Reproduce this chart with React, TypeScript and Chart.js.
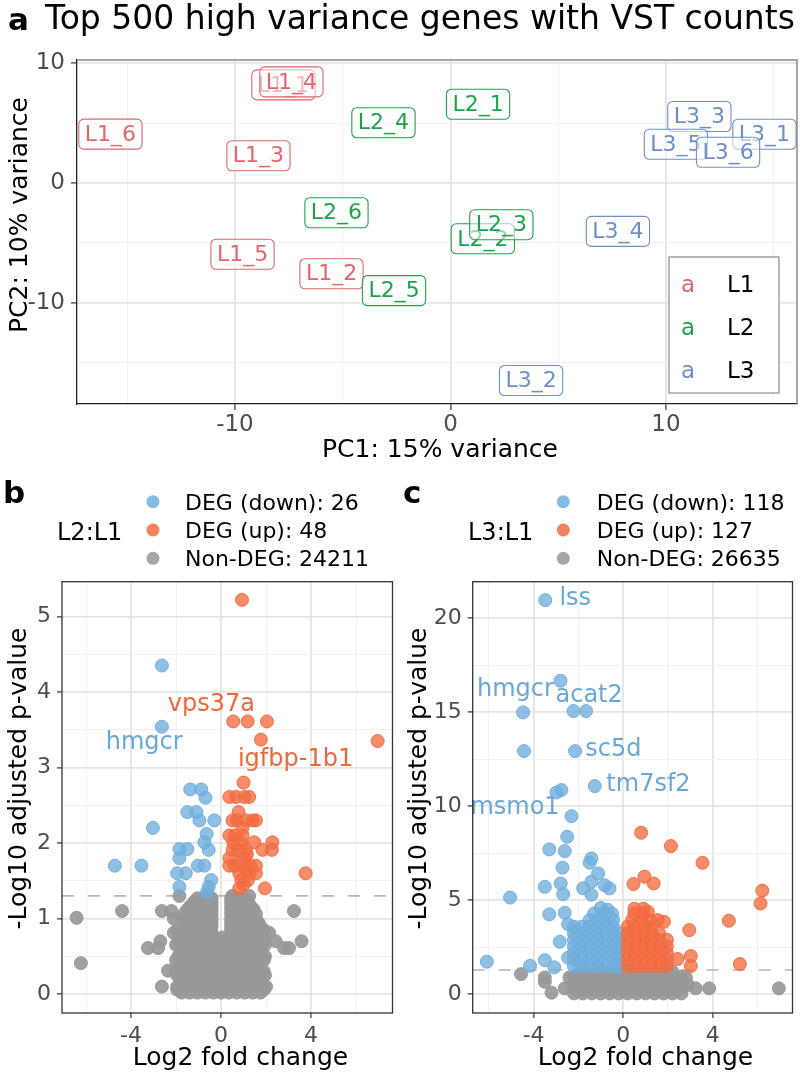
import React, { useEffect, useRef } from 'react';
import { Chart, registerables } from 'chart.js';

Chart.register(...registerables);

const FONT = '"DejaVu Sans", "Liberation Sans", Arial, sans-serif';

// ---------------- Panel a : PCA ----------------
const pcaTitle = 'Top 500 high variance genes with VST counts';
const pcaXTitle = 'PC1: 15% variance';
const pcaYTitle = 'PC2: 10% variance';
const pcaGroupNames = ['L1', 'L2', 'L3'];
const pcaGroupColors = ['#e0676a', '#1fa34a', '#6f8fc9'];
const pcaSamples = ['L1_1', 'L1_2', 'L1_3', 'L1_4', 'L1_5', 'L1_6', 'L2_1', 'L2_2', 'L2_3', 'L2_4', 'L2_5', 'L2_6', 'L3_1', 'L3_2', 'L3_3', 'L3_4', 'L3_5', 'L3_6'];
const pcaGroup = [0, 0, 0, 0, 0, 0, 1, 1, 1, 1, 1, 1, 2, 2, 2, 2, 2, 2];
const pcaPC1 = [-7.75, -5.52, -8.91, -7.38, -9.65, -15.78, 1.28, 1.5, 2.36, -3.11, -2.62, -5.29, 14.57, 3.74, 11.55, 7.77, 10.46, 12.88];
const pcaPC2 = [8.2, -7.58, 2.28, 8.45, -5.95, 4.09, 6.58, -4.66, -3.48, 5.04, -8.99, -2.48, 4.08, -16.5, 5.56, -4.04, 3.24, 2.57];
const pcaXTickLabels = [-10, 0, 10];
const pcaYTickLabels = [-10, 0, 10];

// ---------------- Volcano common ----------------
const degLegendNames = ['DEG (down)', 'DEG (up)', 'Non-DEG'];
const padjThreshold = 1.3;
const COL_DOWN = 'rgb(112,174,220)';
const COL_UP = 'rgb(242,108,64)';
const COL_NON = 'rgb(152,152,152)';

// ---------------- Panel b : L2 vs L1 ----------------
const l2l1Counts = [26, 48, 24211];
const l2l1XTickLabels = [-4, 0, 4];
const l2l1YTickLabels = [0, 1, 2, 3, 4, 5];
const l2l1Down: number[][] = [
  [-4.72, 1.70], [-3.54, 1.70], [-3.03, 2.20], [-2.63, 4.35], [-2.63, 3.54], [-1.37, 2.71], [-0.88, 2.71],
  [-0.69, 2.60], [-1.50, 2.41], [-1.10, 2.41], [-0.96, 2.30], [-0.30, 2.30], [-0.64, 2.12], [-0.74, 2.01],
  [-0.55, 1.91], [-1.85, 1.92], [-1.50, 1.92], [-1.85, 1.80], [-1.03, 1.70], [-0.74, 1.70], [-1.95, 1.60],
  [-1.57, 1.60], [-0.44, 1.51], [-1.85, 1.42], [-0.55, 1.42], [-0.62, 1.35]
];
const l2l1Up: number[][] = [
  [0.93, 5.22], [0.54, 3.61], [1.18, 3.61], [2.04, 3.61], [1.77, 3.37], [6.96, 3.35], [1.00, 2.80],
  [0.37, 2.61], [0.66, 2.61], [1.03, 2.61], [1.25, 2.61], [0.78, 2.41], [0.51, 2.30], [1.10, 2.30],
  [1.55, 2.30], [0.37, 2.10], [0.96, 2.10], [1.47, 2.01], [2.28, 2.01], [2.26, 1.91], [0.51, 1.91],
  [1.10, 1.91], [1.84, 1.91], [0.37, 1.80], [1.03, 1.80], [0.37, 1.70], [1.55, 1.70], [0.81, 1.60],
  [1.25, 1.60], [1.55, 1.60], [3.76, 1.60], [0.90, 1.51], [1.20, 1.51], [0.81, 1.40], [1.95, 1.40],
  [0.60, 1.70], [0.75, 1.91], [0.90, 2.00], [1.30, 1.70], [1.00, 1.45], [0.70, 2.30], [0.60, 2.10],
  [1.40, 2.30], [0.85, 1.75], [1.10, 1.65], [0.55, 2.00], [0.95, 2.20], [1.15, 1.85]
];
const l2l1NonDegOutliers: number[][] = [
  [-6.42, 1.01], [-6.23, 0.41], [-4.40, 1.10], [3.24, 1.10], [3.58, 0.70], [-3.25, 0.61], [-2.80, 0.61],
  [-2.70, 0.70], [-2.63, 0.10], [-2.36, 0.31], [-2.63, 1.10], [-2.21, 1.10], [-2.10, 1.00], [-1.70, 1.00],
  [-2.10, 0.81], [-1.70, 0.81], [1.70, 0.92], [2.14, 0.81], [2.43, 0.70], [2.80, 0.61], [3.02, 0.61],
  [1.53, 0.41], [1.75, 0.21], [2.00, 0.10], [-1.85, 1.30], [-0.60, 1.30], [0.50, 1.30], [1.25, 1.30]
];
const l2l1NonDegRows: [number, number[]][] = [
  [1.27, [-1.05, -0.75, -0.42, 0.45, 0.75, 1.05]],
  [1.22, [-1.2, -0.9, -0.6, -0.42, 0.45, 0.6, 0.9, 1.2]],
  [1.17, [-1.35, -1.0, -0.7, -0.42, 0.45, 0.7, 1.0, 1.3]],
  [1.12, [-1.5, -1.15, -0.85, -0.55, -0.42, 0.45, 0.55, 0.85, 1.15, 1.45]],
  [1.06, [-1.65, -1.3, -0.95, -0.65, -0.42, 0.45, 0.65, 0.95, 1.25, 1.55]],
  [1.0, [-1.4, -1.1, -0.8, -0.5, -0.42, 0.45, 0.5, 0.8, 1.1, 1.4]],
  [0.95, [-1.45, -1.1, -0.8, -0.42, 0.45, 0.75, 1.05, 1.35, 1.65]],
  [0.9, [-1.6, -1.25, -0.95, -0.65, -0.42, 0.45, 0.6, 0.9, 1.2, 1.5]],
  [0.85, [-1.95, -1.35, -1.05, -0.75, -0.45, 0.45, 0.7, 1.0, 1.3, 1.6, 1.9]],
  [0.8, [-1.5, -1.2, -0.9, -0.6, -0.42, 0.45, 0.55, 0.85, 1.15, 1.45, 1.75]],
  [0.75, [-1.7, -1.35, -1.0, -0.65, -0.3, 0.05, 0.4, 0.75, 1.1, 1.45, 1.75]],
  [0.7, [-1.9, -1.55, -1.2, -0.85, -0.5, -0.15, 0.2, 0.55, 0.9, 1.25, 1.6, 1.9]],
  [0.65, [-2.0, -1.6, -1.2, -0.85, -0.5, -0.15, 0.2, 0.55, 0.9, 1.25, 1.6, 1.95]],
  [0.6, [-1.75, -1.4, -1.05, -0.7, -0.35, 0, 0.35, 0.7, 1.05, 1.4, 1.75]],
  [0.55, [-1.75, -1.4, -1.05, -0.7, -0.35, 0, 0.35, 0.7, 1.05, 1.4, 1.75]],
  [0.5, [-1.9, -1.55, -1.2, -0.85, -0.5, -0.15, 0.2, 0.55, 0.9, 1.25, 1.6, 1.95]],
  [0.45, [-2.0, -1.6, -1.25, -0.9, -0.55, -0.2, 0.15, 0.5, 0.85, 1.2, 1.55, 1.9]],
  [0.4, [-1.75, -1.4, -1.05, -0.7, -0.35, 0, 0.35, 0.7, 1.05, 1.4, 1.75]],
  [0.35, [-1.8, -1.45, -1.1, -0.75, -0.4, -0.05, 0.3, 0.65, 1.0, 1.35, 1.7]],
  [0.3, [-2.0, -1.6, -1.25, -0.9, -0.55, -0.2, 0.15, 0.5, 0.85, 1.2, 1.55, 1.9]],
  [0.25, [-1.95, -1.6, -1.25, -0.9, -0.55, -0.2, 0.15, 0.5, 0.85, 1.2, 1.55, 1.95]],
  [0.2, [-1.8, -1.45, -1.1, -0.75, -0.4, -0.05, 0.3, 0.65, 1.0, 1.35, 1.7]],
  [0.15, [-1.75, -1.4, -1.05, -0.7, -0.35, 0, 0.35, 0.7, 1.05, 1.4, 1.75]],
  [0.1, [-1.95, -1.6, -1.25, -0.9, -0.55, -0.2, 0.15, 0.5, 0.85, 1.2, 1.55, 1.9]],
  [0.06, [-1.95, -1.6, -1.25, -0.9, -0.55, -0.2, 0.15, 0.5, 0.85, 1.2, 1.55, 1.9]],
  [0.02, [-1.75, -1.4, -1.05, -0.7, -0.35, 0, 0.35, 0.7, 1.05, 1.4, 1.75]]
];
const l2l1GeneLabels: [string, number, number, string][] = [
  ['vps37a', -0.43, 3.85, 'up'], ['hmgcr', -3.42, 3.35, 'down'], ['igfbp-1b1', 3.31, 3.12, 'up']
];

// ---------------- Panel c : L3 vs L1 ----------------
const l3l1Counts = [118, 127, 26635];
const l3l1XTickLabels = [-4, 0, 4];
const l3l1YTickLabels = [0, 5, 10, 15, 20];
const l3l1DownSingles: number[][] = [
  [-3.48, 20.97], [-2.80, 16.68], [-4.47, 15.0], [-2.22, 15.07], [-1.66, 15.07], [-4.43, 12.94], [-2.15, 12.94],
  [-1.27, 11.08], [-2.98, 10.74], [-2.76, 10.87], [-2.31, 9.48], [-2.50, 8.38], [-3.30, 7.71], [-2.61, 7.62],
  [-2.71, 6.74], [-1.42, 7.23], [-1.50, 7.00], [-3.50, 5.72], [-2.79, 5.90], [-1.12, 6.43], [-1.79, 5.64],
  [-1.42, 5.99], [-0.83, 5.81], [-0.61, 5.64], [-2.68, 5.33], [-5.05, 5.15], [-6.09, 1.74], [-4.16, 1.52],
  [-3.50, 1.82], [-3.08, 1.44], [-3.30, 4.26], [-2.61, 4.34], [-2.83, 2.80], [-2.46, 3.73], [-2.46, 1.95],
  [-1.42, 5.30], [-1.0, 4.6], [-0.7, 4.5]
];
const l3l1DownRows: [number, number[]][] = [
  [1.5, [-2.2, -1.85, -1.5, -1.15, -0.8, -0.45, -0.2]],
  [1.85, [-2.2, -1.85, -1.5, -1.15, -0.8, -0.45, -0.2]],
  [2.2, [-2.2, -1.85, -1.5, -1.15, -0.8, -0.45, -0.2]],
  [2.55, [-2.2, -1.85, -1.5, -1.15, -0.8, -0.45, -0.2]],
  [2.9, [-2.2, -1.85, -1.5, -1.15, -0.8, -0.45, -0.2]],
  [3.25, [-2.2, -1.85, -1.5, -1.15, -0.8, -0.45, -0.2]],
  [3.6, [-2.2, -1.85, -1.5, -1.15, -0.8, -0.45]],
  [3.95, [-1.5, -1.15, -0.8, -0.45]],
  [4.3, [-1.3, -0.9, -0.5]]
];
const l3l1UpSingles: number[][] = [
  [0.80, 8.60], [2.13, 7.89], [3.54, 7.00], [0.46, 5.87], [0.95, 6.26], [1.36, 5.90], [6.21, 5.52],
  [6.13, 4.84], [4.72, 3.92], [2.95, 3.42], [5.21, 1.61], [3.02, 2.04], [3.02, 1.51], [2.43, 1.88],
  [1.82, 3.86], [1.54, 3.95], [0.5, 4.55], [0.9, 4.55], [1.1, 4.4]
];
const l3l1UpRows: [number, number[]][] = [
  [1.5, [0.2, 0.55, 0.9, 1.25, 1.6, 1.95]],
  [1.85, [0.2, 0.55, 0.9, 1.25, 1.6, 1.95]],
  [2.2, [0.2, 0.55, 0.9, 1.25, 1.6, 1.95]],
  [2.55, [0.2, 0.55, 0.9, 1.25, 1.6, 1.95]],
  [2.9, [0.2, 0.55, 0.9, 1.25, 1.6, 1.95]],
  [3.25, [0.2, 0.55, 0.9, 1.25, 1.6]],
  [3.6, [0.2, 0.55, 0.9, 1.25]],
  [3.95, [0.4, 0.8, 1.2]],
  [4.3, [0.5, 0.9]]
];
const l3l1NonDegOutliers: number[][] = [
  [-4.56, 1.08], [-3.50, 0.90], [-3.50, 0.67], [-3.20, 0.09], [-2.61, 0.32], [3.24, 0.32], [3.84, 0.32],
  [6.95, 0.32], [-2.4, 0.9], [2.8, 0.9], [2.9, 0.5]
];
const l3l1NonDegRows: [number, number[]][] = [
  [0.05, [-2.2, -1.8, -1.4, -1.0, -0.6, -0.2, 0.2, 0.6, 1.0, 1.4, 1.8, 2.2, 2.6]],
  [0.2, [-2.0, -1.6, -1.2, -0.8, -0.4, 0, 0.4, 0.8, 1.2, 1.6, 2.0, 2.4]],
  [0.35, [-2.2, -1.8, -1.4, -1.0, -0.6, -0.2, 0.2, 0.6, 1.0, 1.4, 1.8, 2.2, 2.6]],
  [0.5, [-2.0, -1.6, -1.2, -0.8, -0.4, 0, 0.4, 0.8, 1.2, 1.6, 2.0, 2.4]],
  [0.65, [-2.2, -1.8, -1.4, -1.0, -0.6, -0.2, 0.2, 0.6, 1.0, 1.4, 1.8, 2.2, 2.6]],
  [0.8, [-2.0, -1.6, -1.2, -0.8, -0.4, 0, 0.4, 0.8, 1.2, 1.6, 2.0, 2.4]],
  [0.95, [-2.2, -1.8, -1.4, -1.0, -0.6, -0.2, 0.2, 0.6, 1.0, 1.4, 1.8, 2.2, 2.6]],
  [1.1, [-2.0, -1.6, -1.2, -0.8, -0.4, 0, 0.4, 0.8, 1.2, 1.6, 2.0]],
  [1.2, [-1.8, -1.4, -1.0, -0.6, -0.2, 0.2, 0.6, 1.0, 1.4, 1.8, 2.2]]
];
const l3l1GeneLabels: [string, number, number, string][] = [
  ['lss', -2.14, 21.1, 'down'], ['hmgcr', -4.81, 16.27, 'down'], ['acat2', -1.52, 15.97, 'down'],
  ['sc5d', -0.44, 13.09, 'down'], ['tm7sf2', 1.13, 11.22, 'down'], ['msmo1', -4.83, 9.98, 'down']
];

// ---------------- helpers ----------------
const rowsToPoints = (rows: [number, number[]][]) => rows.flatMap(([y, xs]) => xs.map((x) => ({ x, y })));
const pairsToPoints = (pairs: number[][]) => pairs.map(([x, y]) => ({ x, y }));

function roundRect(ctx: CanvasRenderingContext2D, x: number, y: number, w: number, h: number, r: number) {
  ctx.beginPath();
  ctx.moveTo(x + r, y);
  ctx.arcTo(x + w, y, x + w, y + h, r);
  ctx.arcTo(x + w, y + h, x, y + h, r);
  ctx.arcTo(x, y + h, x, y, r);
  ctx.arcTo(x, y, x + w, y, r);
  ctx.closePath();
}

function gridFor(isMajor: (v: number) => boolean, tickLen: number) {
  return {
    drawTicks: true,
    tickLength: tickLen,
    tickWidth: 1.2,
    color: (c: any) => (c.tick && isMajor(c.tick.value) ? '#e4e4e4' : '#f1f1f1'),
    lineWidth: (c: any) => (c.tick && isMajor(c.tick.value) ? 1.8 : 1),
    tickColor: (c: any) => (c.tick && isMajor(c.tick.value) ? '#333333' : 'rgba(0,0,0,0)'),
  };
}

const baseOptions = {
  animation: false,
  responsive: false,
  devicePixelRatio: 1,
  events: [],
  plugins: { legend: { display: false }, tooltip: { enabled: false }, title: { display: false } },
};

// ---------------- Panel a component ----------------
function PcaPanel() {
  const ref = useRef<HTMLCanvasElement>(null);
  useEffect(() => {
    const isMajorX = (v: number) => pcaXTickLabels.includes(v);
    const isMajorY = (v: number) => pcaYTickLabels.includes(v);
    const plugin = {
      id: 'pcaDecor',
      afterDatasetsDraw(chart: any) {
        const ctx = chart.ctx as CanvasRenderingContext2D;
        const xs = chart.scales.x;
        const ys = chart.scales.y;
        ctx.save();
        ctx.font = `22px ${FONT}`;
        ctx.textAlign = 'center';
        ctx.textBaseline = 'middle';
        pcaSamples.forEach((name, i) => {
          const px = xs.getPixelForValue(pcaPC1[i]);
          const py = ys.getPixelForValue(pcaPC2[i]);
          const col = pcaGroupColors[pcaGroup[i]];
          const w = ctx.measureText(name).width + 12;
          const h = 30;
          roundRect(ctx, px - w / 2, py - h / 2, w, h, 5);
          ctx.fillStyle = 'rgba(255,255,255,0.55)';
          ctx.fill();
          ctx.strokeStyle = col;
          ctx.lineWidth = 1.1;
          ctx.stroke();
          ctx.fillStyle = col;
          ctx.fillText(name, px, py + 1);
        });
        ctx.restore();
      },
      afterDraw(chart: any) {
        const ctx = chart.ctx as CanvasRenderingContext2D;
        const a = chart.chartArea;
        ctx.save();
        ctx.strokeStyle = '#8a8a8a';
        ctx.lineWidth = 1.5;
        ctx.beginPath();
        ctx.moveTo(a.left, a.top);
        ctx.lineTo(a.right, a.top);
        ctx.lineTo(a.right, a.bottom);
        ctx.stroke();
        // legend
        ctx.fillStyle = '#ffffff';
        ctx.fillRect(669, 257, 110, 136);
        ctx.strokeStyle = '#8a8a8a';
        ctx.lineWidth = 1.2;
        ctx.strokeRect(669, 257, 110, 136);
        ctx.font = `23px ${FONT}`;
        ctx.textBaseline = 'alphabetic';
        const baselines = [291.7, 335, 378];
        pcaGroupNames.forEach((g, i) => {
          ctx.fillStyle = pcaGroupColors[i];
          ctx.textAlign = 'center';
          ctx.fillText('a', 688, baselines[i]);
          ctx.fillStyle = '#000';
          ctx.textAlign = 'left';
          ctx.fillText(g, 727, baselines[i]);
        });
        // panel letter + title
        ctx.fillStyle = '#000';
        ctx.textAlign = 'left';
        ctx.font = `bold 31px ${FONT}`;
        ctx.fillText('a', 8, 30);
        ctx.font = `33px ${FONT}`;
        ctx.textAlign = 'center';
        ctx.fillText(pcaTitle, 420, 29);
        // axis titles
        ctx.font = `25px ${FONT}`;
        ctx.fillText(pcaXTitle, 440, 457);
        ctx.translate(27, 215);
        ctx.rotate(-Math.PI / 2);
        ctx.fillText(pcaYTitle, 0, 0);
        ctx.restore();
      },
    };
    const chart = new Chart(ref.current as HTMLCanvasElement, {
      type: 'scatter',
      data: {
        datasets: [
          {
            data: pcaPC1.map((x, i) => ({ x, y: pcaPC2[i] })),
            pointRadius: 0,
            pointHoverRadius: 0,
          },
        ],
      },
      options: {
        ...baseOptions,
        layout: { padding: { left: 0, right: 3, top: 60, bottom: 0 } },
        scales: {
          x: {
            type: 'linear',
            min: -17.33,
            max: 16.08,
            grid: gridFor(isMajorX, 6),
            border: { display: true, color: '#222', width: 1.3 },
            ticks: {
              stepSize: 5,
              includeBounds: false,
              autoSkip: false,
              maxRotation: 0,
              padding: 1,
              color: '#4d4d4d',
              font: { family: FONT, size: 23 },
              callback: (v: any) => (isMajorX(v) ? String(v) : ''),
            },
            afterFit: (s: any) => { s.height = 66; },
          },
          y: {
            type: 'linear',
            min: -18.46,
            max: 10.28,
            grid: gridFor(isMajorY, 6),
            border: { display: true, color: '#222', width: 1.3 },
            ticks: {
              stepSize: 5,
              includeBounds: false,
              autoSkip: false,
              padding: 6,
              color: '#4d4d4d',
              font: { family: FONT, size: 23 },
              callback: (v: any) => (isMajorY(v) ? String(v) : ''),
            },
            afterFit: (s: any) => { s.width = 77; },
          },
        },
      },
      plugins: [plugin],
    } as any);
    return () => chart.destroy();
  }, []);
  return (
    <canvas
      ref={ref}
      width={800}
      height={470}
      style={{ position: 'absolute', left: 0, top: 0, width: 800, height: 470 }}
    />
  );
}

// ---------------- Volcano component ----------------
type VolcanoProps = {
  left: number;
  letter: string;
  comparison: string;
  counts: number[];
  down: { x: number; y: number }[];
  up: { x: number; y: number }[];
  nonDeg: { x: number; y: number }[];
  geneLabels: [string, number, number, string][];
  xTickLabels: number[];
  yTickLabels: number[];
  xMin: number;
  xMax: number;
  yMin: number;
  yMax: number;
  yStep: number;
  yAxisWidth: number;
  compX: number;
  legendDotX: number;
  legendTextX: number;
  xTitleX: number;
};

function VolcanoPanel(p: VolcanoProps) {
  const ref = useRef<HTMLCanvasElement>(null);
  useEffect(() => {
    const isMajorX = (v: number) => p.xTickLabels.includes(v);
    const isMajorY = (v: number) => p.yTickLabels.includes(v);
    const plugin = {
      id: 'volcanoDecor',
      beforeDatasetsDraw(chart: any) {
        const ctx = chart.ctx as CanvasRenderingContext2D;
        const a = chart.chartArea;
        const y = chart.scales.y.getPixelForValue(padjThreshold);
        ctx.save();
        ctx.strokeStyle = '#b5b5b5';
        ctx.lineWidth = 1.6;
        ctx.setLineDash([12, 14]);
        ctx.beginPath();
        ctx.moveTo(a.left, y);
        ctx.lineTo(a.right, y);
        ctx.stroke();
        ctx.restore();
      },
      afterDatasetsDraw(chart: any) {
        const ctx = chart.ctx as CanvasRenderingContext2D;
        const xs = chart.scales.x;
        const ys = chart.scales.y;
        ctx.save();
        ctx.font = `24px ${FONT}`;
        ctx.textAlign = 'center';
        ctx.textBaseline = 'middle';
        p.geneLabels.forEach(([t, x, y, kind]) => {
          ctx.fillStyle = kind === 'up' ? 'rgb(238,104,60)' : 'rgb(108,168,214)';
          ctx.fillText(t, xs.getPixelForValue(x), ys.getPixelForValue(y) + 1.5);
        });
        ctx.restore();
      },
      afterDraw(chart: any) {
        const ctx = chart.ctx as CanvasRenderingContext2D;
        const a = chart.chartArea;
        ctx.save();
        ctx.strokeStyle = '#333333';
        ctx.lineWidth = 1.3;
        ctx.strokeRect(a.left, a.top, a.right - a.left, a.bottom - a.top);
        ctx.fillStyle = '#000';
        ctx.textAlign = 'left';
        ctx.textBaseline = 'alphabetic';
        ctx.font = `bold 31px ${FONT}`;
        ctx.fillText(p.letter, 3, 33);
        ctx.font = `24px ${FONT}`;
        ctx.fillText(p.comparison, p.compX, 70);
        const dotY = [31.7, 60, 88.3];
        const cols = [COL_DOWN, COL_UP, COL_NON];
        ctx.font = `22px ${FONT}`;
        degLegendNames.forEach((n, i) => {
          ctx.beginPath();
          ctx.arc(p.legendDotX, dotY[i], 6.5, 0, Math.PI * 2);
          ctx.fillStyle = cols[i];
          ctx.globalAlpha = 0.85;
          ctx.fill();
          ctx.globalAlpha = 1;
          ctx.fillStyle = '#000';
          ctx.fillText(`${n}: ${p.counts[i]}`, p.legendTextX, dotY[i] + 7.8);
        });
        ctx.font = `25px ${FONT}`;
        ctx.textAlign = 'center';
        ctx.fillText('Log2 fold change', p.xTitleX, 595);
        ctx.translate(26, 308.5);
        ctx.rotate(-Math.PI / 2);
        ctx.fillText('-Log10 adjusted p-value', 0, 0);
        ctx.restore();
      },
    };
    const ds = (data: any[], col: string, order: number, fillA: number) => ({
      data,
      order,
      pointRadius: 6.5,
      pointHoverRadius: 6.5,
      pointBorderWidth: 1,
      pointBackgroundColor: col.replace('rgb', 'rgba').replace(')', `,${fillA})`),
      pointBorderColor: col.replace('rgb', 'rgba').replace(')', ',0.95)'),
    });
    const chart = new Chart(ref.current as HTMLCanvasElement, {
      type: 'scatter',
      data: {
        datasets: [ds(p.up, COL_UP, 1, 0.78), ds(p.down, COL_DOWN, 2, 0.78), ds(p.nonDeg, COL_NON, 3, 0.92)],
      },
      options: {
        ...baseOptions,
        layout: { padding: { left: 0, right: 6, top: 111.7, bottom: 0 } },
        scales: {
          x: {
            type: 'linear',
            min: p.xMin,
            max: p.xMax,
            grid: gridFor(isMajorX, 5),
            border: { display: false },
            ticks: {
              stepSize: 2,
              includeBounds: false,
              autoSkip: false,
              maxRotation: 0,
              padding: 5,
              color: '#4d4d4d',
              font: { family: FONT, size: 22 },
              callback: (v: any) => (isMajorX(v) ? String(v) : ''),
            },
            afterFit: (s: any) => { s.height = 67; },
          },
          y: {
            type: 'linear',
            min: p.yMin,
            max: p.yMax,
            grid: gridFor(isMajorY, 5),
            border: { display: false },
            ticks: {
              stepSize: p.yStep,
              includeBounds: false,
              autoSkip: false,
              padding: 6,
              color: '#4d4d4d',
              font: { family: FONT, size: 22 },
              callback: (v: any) => (isMajorY(v) ? String(v) : ''),
            },
            afterFit: (s: any) => { s.width = p.yAxisWidth; },
          },
        },
      },
      plugins: [plugin],
    } as any);
    return () => chart.destroy();
  }, []);
  return (
    <canvas
      ref={ref}
      width={400}
      height={610}
      style={{ position: 'absolute', left: p.left, top: 470, width: 400, height: 610 }}
    />
  );
}

export default function App() {
  return (
    <div style={{ position: 'absolute', left: 0, top: 0, width: 800, height: 1080, background: '#ffffff' }}>
      <PcaPanel />
      <VolcanoPanel
        left={0}
        letter="b"
        comparison="L2:L1"
        counts={l2l1Counts}
        down={pairsToPoints(l2l1Down)}
        up={pairsToPoints(l2l1Up)}
        nonDeg={[...pairsToPoints(l2l1NonDegOutliers), ...rowsToPoints(l2l1NonDegRows)]}
        geneLabels={l2l1GeneLabels}
        xTickLabels={l2l1XTickLabels}
        yTickLabels={l2l1YTickLabels}
        xMin={-7.07}
        xMax={7.62}
        yMin={-0.25}
        yMax={5.46}
        yStep={0.5}
        yAxisWidth={62}
        compX={57}
        legendDotX={153}
        legendTextX={185}
        xTitleX={240.5}
      />
      <VolcanoPanel
        left={400}
        letter="c"
        comparison="L3:L1"
        counts={l3l1Counts}
        down={[...pairsToPoints(l3l1DownSingles), ...rowsToPoints(l3l1DownRows)]}
        up={[...pairsToPoints(l3l1UpSingles), ...rowsToPoints(l3l1UpRows)]}
        nonDeg={[...pairsToPoints(l3l1NonDegOutliers), ...rowsToPoints(l3l1NonDegRows)]}
        geneLabels={l3l1GeneLabels}
        xTickLabels={l3l1XTickLabels}
        yTickLabels={l3l1YTickLabels}
        xMin={-6.72}
        xMax={7.56}
        yMin={-0.99}
        yMax={21.95}
        yStep={2.5}
        yAxisWidth={72.7}
        compX={68}
        legendDotX={163.3}
        legendTextX={196.7}
        xTitleX={245.5}
      />
    </div>
  );
}
